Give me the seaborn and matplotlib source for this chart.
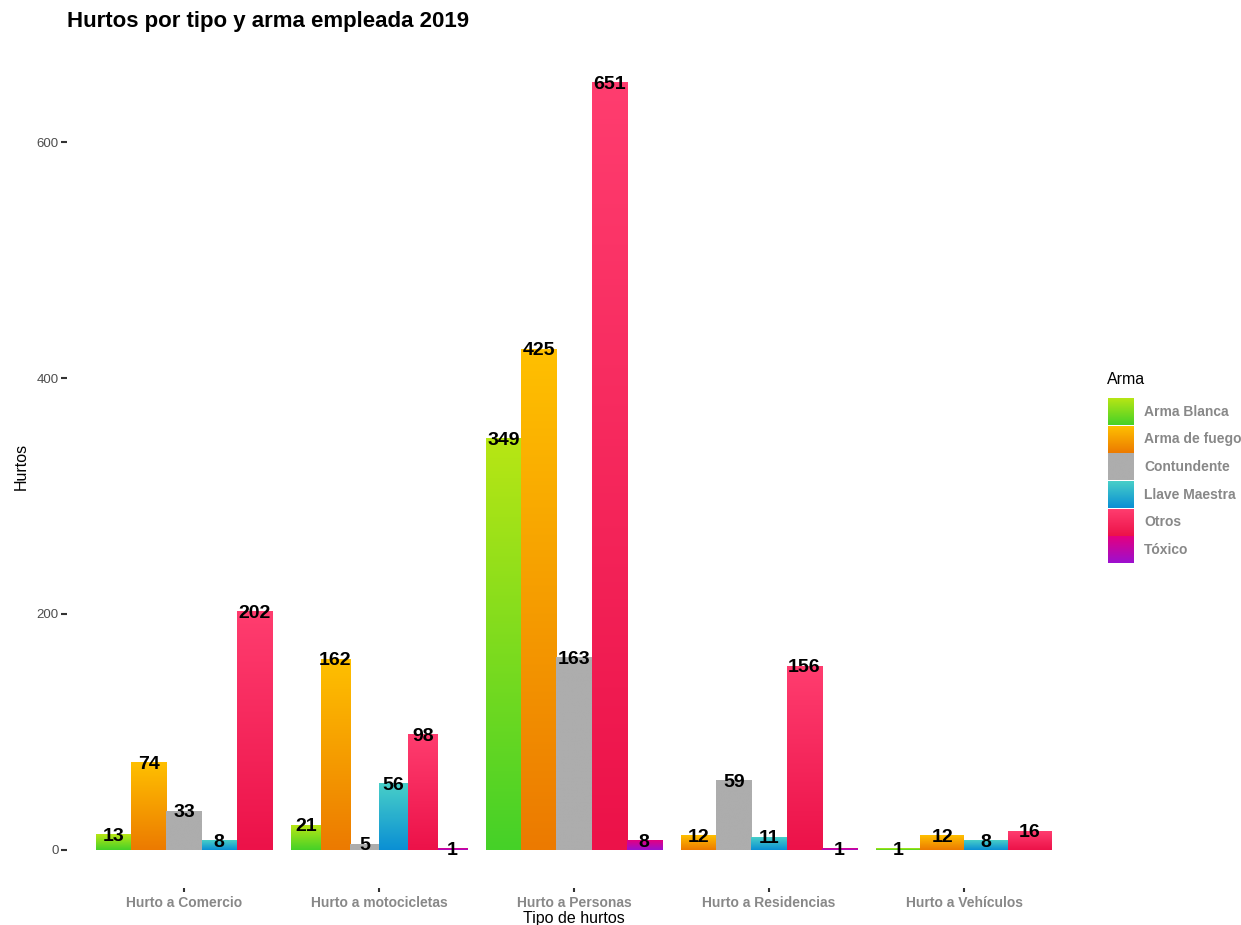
import numpy as np
import pandas as pd
import matplotlib
matplotlib.use("Agg")
import matplotlib.pyplot as plt
import seaborn as sns
from matplotlib.colors import to_rgb

# --------------------------------------------------
# Datos
# --------------------------------------------------
tipos = ["Hurto a Comercio", "Hurto a motocicletas", "Hurto a Personas",
         "Hurto a Residencias", "Hurto a Vehículos"]
armas = ["Arma Blanca", "Arma de fuego", "Contundente", "Llave Maestra",
         "Otros", "Tóxico"]

# None = combinacion sin registros
arma_blanca = [13, 21, 349, None, 1]
arma_fuego = [74, 162, 425, 12, 12]
contundente = [33, 5, 163, 59, None]
llave_maestra = [8, 56, None, 11, 8]
otros = [202, 98, 651, 156, 16]
toxico = [None, 1, 8, 1, None]

# degradado de cada barra (arriba -> abajo)
color_arriba = ["#b8e614", "#ffc000", "#adadad", "#48cfc8", "#ff3d6f", "#e4007f"]
color_abajo = ["#45d128", "#ec7a00", "#adadad", "#0a8fd4", "#ec1249", "#9c10d0"]

valores = [arma_blanca, arma_fuego, contundente, llave_maestra, otros, toxico]
filas = []
for arma, vals in zip(armas, valores):
    for tipo, v in zip(tipos, vals):
        if v is not None:
            filas.append({"Tipo": tipo, "Arma": arma, "Hurtos": v})
df = pd.DataFrame(filas)

# --------------------------------------------------
# Figura
# --------------------------------------------------
sns.set_theme(style="white")
plt.rcParams["font.family"] = ["Liberation Sans", "DejaVu Sans"]
plt.rcParams["text.color"] = "black"

W, H = 1241, 925
fig = plt.figure(figsize=(W / 100, H / 100), dpi=100)
ax = fig.add_axes([67 / W, 1 - 888 / H, (1081 - 67) / W, (888 - 44) / H])

sns.barplot(data=df, x="Tipo", y="Hurtos", hue="Arma", order=tipos,
            hue_order=armas, palette=dict(zip(armas, color_arriba)),
            saturation=1, dodge=True, errorbar=None, legend=False, ax=ax)

# identificar cada barra por su color
ref = np.array([to_rgb(c) for c in color_arriba])
grupos = {}
for p in ax.patches:
    h = p.get_height()
    if h is None or np.isnan(h) or p.get_width() == 0:
        continue
    fc = np.array(p.get_facecolor()[:3])
    k = int(np.argmin(((ref - fc) ** 2).sum(axis=1)))
    i = int(round(p.get_x() + p.get_width() / 2))
    grupos.setdefault(i, []).append((k, p))

# dodge tipo ggplot: el ancho se reparte solo entre las barras presentes
grad = np.linspace(0, 1, 256)[:, None, None]
for i, lista in grupos.items():
    lista.sort(key=lambda t: t[0])
    n = len(lista)
    w = 0.9 / n
    for j, (k, p) in enumerate(lista):
        x0 = i - 0.45 + j * w
        h = p.get_height()
        p.set_x(x0)
        p.set_width(w)
        top = np.array(to_rgb(color_arriba[k]))
        bot = np.array(to_rgb(color_abajo[k]))
        img = bot + (top - bot) * grad
        ax.imshow(img, extent=[x0, x0 + w, 0, h], origin="lower",
                  aspect="auto", interpolation="bilinear", zorder=1)
        p.set_visible(False)
        ax.text(x0 + w / 2, h, f"{int(h)}", ha="center", va="center_baseline",
                fontsize=14, fontweight="bold", color="black", zorder=3)

ax.set_xlim(-0.6, 4.6)
ax.set_ylim(-0.05 * 651, 1.05 * 651)
ax.set_yticks([0, 200, 400, 600])
ax.set_xticks(range(len(tipos)))
ax.set_xticklabels(tipos, fontsize=10, fontweight="bold", color="#888888")

for s in ax.spines.values():
    s.set_visible(False)
ax.tick_params(axis="y", left=True, length=4, width=1.5, color="#333333",
               labelsize=9.5, labelcolor="#4d4d4d", pad=2)
ax.tick_params(axis="x", bottom=True, length=3, width=1.5, color="#333333",
               pad=3)

ax.set_xlabel("Tipo de hurtos", fontsize=11.5, color="black")
ax.set_ylabel("Hurtos", fontsize=11.5, color="black")
ax.xaxis.set_label_coords(0.5, -0.027)
ax.yaxis.set_label_coords(-0.0375, 0.5)

fig.text(67 / W, 1 - 22 / H, "Hurtos por tipo y arma empleada 2019",
         fontsize=16, fontweight="bold", va="center", ha="left", color="black")

# --------------------------------------------------
# Leyenda con degradado
# --------------------------------------------------
fig.text(1107 / W, 1 - 380 / H, "Arma", fontsize=11.5, va="center", ha="left")
lax = fig.add_axes([1108 / W, 1 - 564 / H, 26 / W, 166 / H])
lax.axis("off")
for j, arma in enumerate(armas):
    y0 = len(armas) - j - 1
    top = np.array(to_rgb(color_arriba[j]))
    bot = np.array(to_rgb(color_abajo[j]))
    img = bot + (top - bot) * grad
    lax.imshow(img, extent=[0, 1, y0 + 0.03, y0 + 0.97], origin="lower",
               aspect="auto", interpolation="bilinear")
    lax.text(1 + 10 / 26, y0 + 0.5, arma, fontsize=10, fontweight="bold",
             color="#888888", va="center", ha="left")
lax.set_xlim(0, 1)
lax.set_ylim(0, len(armas))

fig.savefig("out.png", dpi=100)
